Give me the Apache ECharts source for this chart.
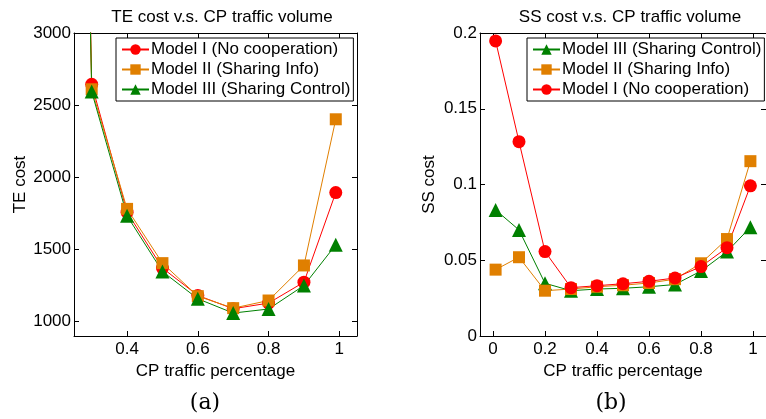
<!DOCTYPE html>
<html>
<head>
<meta charset="utf-8">
<script src="https://cdn.jsdelivr.net/npm/echarts@6/dist/echarts.min.js"></script>
<style>
html,body{margin:0;padding:0;background:#fff;}
#c{width:766px;height:419px;}
</style>
</head>
<body>
<div id="c"></div>
<script>
// ---- data ----
const teX = [0.2, 0.3, 0.4, 0.5, 0.6, 0.7, 0.8, 0.9, 0.99];
const teModel1 = [15000, 2645, 1758, 1371, 1181, 1089, 1128, 1273, 1894];
const teModel2 = [15000, 2610, 1781, 1405, 1176, 1093, 1146, 1389, 2402];
const teModel3 = [15000, 2594, 1733, 1347, 1158, 1059, 1087, 1250, 1532];

const ssX = [0.01, 0.1, 0.2, 0.3, 0.4, 0.5, 0.6, 0.7, 0.8, 0.9, 0.99];
const ssModel1 = [0.1948, 0.1283, 0.0557, 0.0319, 0.0332, 0.0345, 0.0361, 0.0383, 0.0458, 0.0583, 0.0991];
const ssModel2 = [0.0438, 0.0520, 0.0299, 0.0310, 0.0325, 0.0335, 0.0350, 0.0375, 0.0480, 0.0640, 0.1154];
const ssModel3 = [0.0832, 0.0700, 0.0348, 0.0299, 0.0310, 0.0315, 0.0325, 0.0340, 0.0429, 0.0557, 0.0718];

const teXTicks = [0.4, 0.6, 0.8, 1];
const teYTicks = [1000, 1500, 2000, 2500, 3000];
const ssXTicks = [0, 0.2, 0.4, 0.6, 0.8, 1];
const ssYTicks = [0, 0.05, 0.1, 0.15, 0.2];

const names = ['Model I (No cooperation)', 'Model II (Sharing Info)', 'Model III (Sharing Control)'];
const colors = ['#ff0000', '#e07f00', '#008000'];
const symbols = ['circle', 'rect', 'triangle'];
const symSizes = [13, 12, 14];

const FONT = 'Liberation Sans, Arial, Helvetica, sans-serif';
const FS = 17;

function zip(xs, ys){ return xs.map((x,i)=>[x, ys[i]]); }

function mkAxis(gridIndex, pos, min, max, ticks, showLabel, name, nameGap, margin){
  const ax = {
    type: 'value', gridIndex, position: pos, min, max,
    axisLine: {show: true, onZero: false, lineStyle: {color: '#000', width: 1}},
    axisTick: {show: true, inside: true, length: 5, customValues: ticks, lineStyle: {color: '#000'}},
    axisLabel: {show: showLabel, customValues: ticks, color: '#000', fontSize: FS, fontFamily: FONT,
                margin: margin == null ? 5 : margin, formatter: v => String(v)},
    splitLine: {show: false}
  };
  if (name) {
    ax.name = name; ax.nameLocation = 'middle'; ax.nameGap = nameGap;
    ax.nameTextStyle = {color: '#000', fontSize: FS, fontFamily: FONT};
  }
  return ax;
}

function mkSeries(i, data, xi, yi){
  return {
    type: 'line', name: names[i], data, xAxisIndex: xi, yAxisIndex: yi,
    symbol: symbols[i], symbolSize: symSizes[i], showAllSymbol: true,
    itemStyle: {color: colors[i]}, lineStyle: {color: colors[i], width: 1},
    clip: true, animation: false
  };
}

function mkLegend(left, data){
  return {orient: 'vertical', left, top: 38, data,
    itemWidth: 27, itemHeight: 13, itemGap: 3, padding: [3, 3, 3, 5],
    borderColor: '#000', borderWidth: 1, backgroundColor: '#fff',
    textStyle: {fontSize: FS, color: '#000', fontFamily: FONT, padding: [0,0,0,-3]}};
}

const chart = echarts.init(document.getElementById('c'), null, {renderer: 'canvas'});
chart.setOption({
  animation: false,
  backgroundColor: '#fff',
  title: [
    {text: 'TE cost v.s. CP traffic volume', left: 217, top: 4, textAlign: 'center',
     textStyle: {fontSize: FS, fontWeight: 'normal', color: '#000', fontFamily: FONT}},
    {text: 'SS cost v.s. CP traffic volume', left: 625, top: 4, textAlign: 'center',
     textStyle: {fontSize: FS, fontWeight: 'normal', color: '#000', fontFamily: FONT}},
    {text: '(a)', left: 200, top: 387, textAlign: 'center',
     textStyle: {fontSize: 22, fontWeight: 'normal', color: '#000', fontFamily: 'DejaVu Serif, Liberation Serif, serif'}},
    {text: '(b)', left: 606, top: 387, textAlign: 'center',
     textStyle: {fontSize: 22, fontWeight: 'normal', color: '#000', fontFamily: 'DejaVu Serif, Liberation Serif, serif'}}
  ],
  grid: [
    {left: 74, top: 33, width: 283, height: 303},
    {left: 480, top: 33, width: 288, height: 303}
  ],
  xAxis: [
    mkAxis(0, 'bottom', 0.25, 1.05, teXTicks, true, 'CP traffic percentage', 19),
    mkAxis(0, 'top', 0.25, 1.05, teXTicks, false),
    mkAxis(1, 'bottom', -0.05, 1.05, ssXTicks, true, 'CP traffic percentage', 19),
    mkAxis(1, 'top', -0.05, 1.05, ssXTicks, false)
  ],
  yAxis: [
    mkAxis(0, 'left', 900, 3000, teYTicks, true, 'TE cost', 38, 3),
    mkAxis(0, 'right', 900, 3000, teYTicks, false),
    mkAxis(1, 'left', 0, 0.2, ssYTicks, true, 'SS cost', 42, 3),
    mkAxis(1, 'right', 0, 0.2, ssYTicks, false)
  ],
  legend: [
    mkLegend(116, names),
    mkLegend(527, [names[2], names[1], names[0]])
  ],
  series: [
    mkSeries(0, zip(teX, teModel1), 0, 0),
    mkSeries(1, zip(teX, teModel2), 0, 0),
    mkSeries(2, zip(teX, teModel3), 0, 0),
    mkSeries(2, zip(ssX, ssModel3), 2, 2),
    mkSeries(1, zip(ssX, ssModel2), 2, 2),
    mkSeries(0, zip(ssX, ssModel1), 2, 2)
  ]
});
</script>
</body>
</html>
